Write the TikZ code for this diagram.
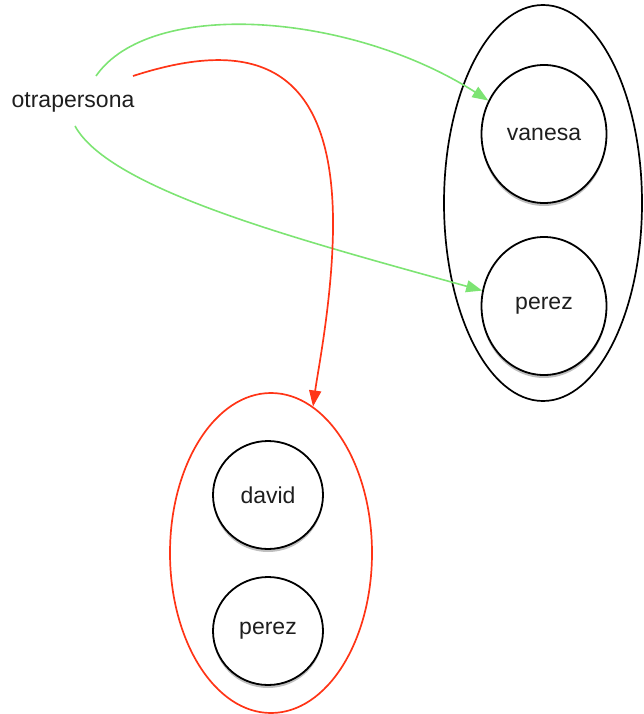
\documentclass[tikz,border=0pt]{standalone}
\usepackage{fontspec}
\setmainfont{Liberation Sans}
\usetikzlibrary{arrows.meta,shapes.geometric,shadows}
\definecolor{edgegreen}{RGB}{125,228,115}
\definecolor{edgered}{RGB}{255,52,22}
\definecolor{txt}{RGB}{30,30,30}
\tikzset{
  member/.style={ellipse, draw=black, line width=1.8pt, fill=white, inner sep=0pt,
    minimum width=#1, text=txt, font=\fontsize{23}{27}\selectfont,
    drop shadow={shadow xshift=0pt, shadow yshift=-3pt, opacity=0.25, fill=black}},
  group/.style={ellipse, draw=#1, line width=1.7pt, inner sep=0pt},
  greenedge/.style={draw=edgegreen, line width=1.6pt, -{Triangle[length=16pt,width=12pt]}},
  rededge/.style={draw=edgered, line width=1.7pt, -{Triangle[length=16pt,width=12pt]}},
}
\begin{document}
\begin{tikzpicture}[x=1pt,y=-1pt]
\useasboundingbox (0,0) rectangle (643,714);
% groups
\node[group=black, minimum width=198pt, minimum height=396pt] (g1) at (543,203) {};
\node[group=edgered, minimum width=202pt, minimum height=320pt] (g2) at (271,553) {};
% members
\node[member=125pt, minimum height=138pt] (vanesa) at (544,134) {vanesa};
\node[member=125pt, minimum height=138pt] (perez1) at (544,306) {perez};
\node[member=110pt, minimum height=108pt] (david) at (268,495) {david};
\node[member=110pt, minimum height=108pt] (perez2) at (268,631) {perez};
% source
\node[text=txt, font=\fontsize{23}{27}\selectfont, inner sep=0pt] (o) at (73,102) {otrapersona};
\coordinate (gs1) at (96,76);
\coordinate (gs2) at (75,126);
\coordinate (rs) at (133,76);
% edges
\draw[greenedge] (gs1) .. controls (150,-2) and (350,12) .. (vanesa.149);
\draw[greenedge] (gs2) .. controls (110,190) and (300,240) .. (perez1.166);
\draw[rededge] (rs) .. controls (250,38) and (335,60) .. (333,230)
  .. controls (332,300) and (318,370) .. (g2.74);
\end{tikzpicture}
\end{document}
